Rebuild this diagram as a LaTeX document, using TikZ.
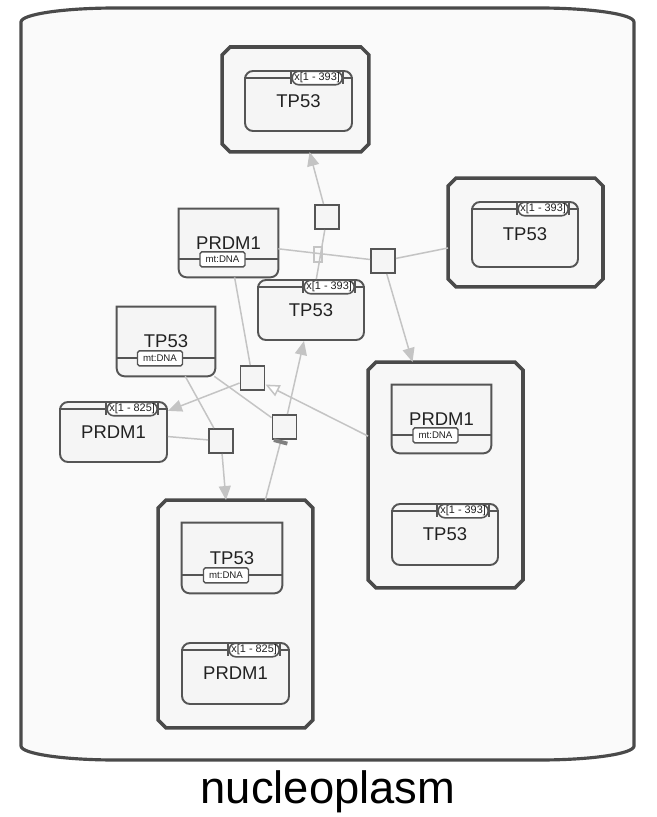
\documentclass[tikz,border=0pt]{standalone}
\usepackage{fontspec}
\setmainfont{Liberation Sans}
\usetikzlibrary{shapes.misc, arrows.meta}

\definecolor{linegray}{HTML}{C4C4C4}
\definecolor{edgedark}{HTML}{555555}
\definecolor{cxdark}{HTML}{4A4A4A}
\definecolor{epnfill}{HTML}{F5F5F5}
\definecolor{cxfill}{HTML}{F7F7F7}
\definecolor{compfill}{HTML}{FAFAFA}
\definecolor{textdark}{HTML}{222222}

\tikzstyle{complexbox} = [rectangle, draw=none, fill=none, inner sep=0pt, outer sep=0pt]
\tikzstyle{macromol} = [rectangle, rounded corners=0.16cm, draw=edgedark, line width=1.1pt, fill=epnfill, text=textdark, font=\fontsize{10.5}{12}\selectfont, inner sep=0pt]
\tikzstyle{nafeat} = [rectangle, fill=epnfill, text=textdark, font=\fontsize{10.5}{12}\selectfont, inner sep=0pt]
\tikzstyle{epnline} = [draw=edgedark, line width=1.1pt]
\tikzstyle{unitbox} = [rounded rectangle, draw=edgedark, line width=0.9pt, fill=white, text=textdark, minimum width=1.0cm, minimum height=0.27cm, inner sep=0pt, font=\fontsize{6.2}{6.2}\selectfont]
\tikzstyle{dnabox} = [rectangle, rounded corners=1pt, draw=edgedark, line width=0.8pt, fill=white, text=textdark, minimum width=0.9cm, minimum height=0.3cm, inner sep=0pt, font=\fontsize{5.5}{5.5}\selectfont]
\tikzstyle{process} = [rectangle, draw=edgedark, line width=1.1pt, fill=epnfill, minimum size=0.48cm, inner sep=0pt]
\tikzstyle{link} = [draw=linegray, line width=0.85pt]
\tikzstyle{arrow} = [link, -{Triangle[length=0.28cm, width=0.24cm, fill=linegray]}]
\tikzstyle{stim} = [link, -{Triangle[open, length=0.28cm, width=0.24cm, fill=white]}]
\tikzstyle{inhib} = [link, -{Bar[width=0.28cm, line width=2.2pt, color=gray]}]

% contorno chanfrado do complexo
\newcommand{\chanfro}[1]{%
  \draw[draw=cxdark, line width=2pt, fill=cxfill] ([xshift=0.16cm]#1.north west) -- ([xshift=-0.16cm]#1.north east) -- ([yshift=-0.16cm]#1.north east) -- ([yshift=0.16cm]#1.south east) -- ([xshift=-0.16cm]#1.south east) -- ([xshift=0.16cm]#1.south west) -- ([yshift=0.16cm]#1.south west) -- ([yshift=-0.16cm]#1.north west) -- cycle;}

% unidade de informacao sobre a linha de topo
\newcommand{\unidade}[3]{%
  \draw[epnline] ([yshift=-0.16cm]#1.north west) -- ([yshift=-0.16cm]#1.north east);
  \node (#2) [unitbox, anchor=east] at ([xshift=-0.2cm, yshift=-0.16cm]#1.north east) {#3};
  \draw[edgedark, line width=1.2pt] ([yshift=0.12cm]#2.west) -- ([yshift=-0.12cm]#2.west);
  \draw[edgedark, line width=1.2pt] ([yshift=0.12cm]#2.east) -- ([yshift=-0.12cm]#2.east);}

% contorno de acido nucleico com o marcador mt:DNA
\newcommand{\acidonuc}[2]{%
  \draw[epnline] (#1.north west) -- (#1.north east) -- ([yshift=0.16cm]#1.south east) arc[start angle=0, end angle=-90, radius=0.16cm] -- ([xshift=0.16cm]#1.south west) arc[start angle=270, end angle=180, radius=0.16cm] -- cycle;
  \draw[epnline] ([yshift=0.36cm]#1.south west) -- ([yshift=0.36cm]#1.south east);
  \node (#2) [dnabox] at ([xshift=-0.12cm, yshift=0.36cm]#1.south) {mt:DNA};}

\begin{document}
\begin{tikzpicture}[x=0.02cm, y=-0.02cm]

        \useasboundingbox (0,0) rectangle (656,817);

        % Compartimento
        \draw[draw=cxdark, line width=1.8pt, fill=compfill] (21,22) arc[start angle=180, end angle=90, x radius=1.9cm, y radius=0.28cm] -- (539,8) arc[start angle=90, end angle=0, x radius=1.9cm, y radius=0.28cm] -- (634,746) arc[start angle=0, end angle=-90, x radius=1.9cm, y radius=0.28cm] -- (116,760) arc[start angle=270, end angle=180, x radius=1.9cm, y radius=0.28cm] -- cycle;
        \node (rotulo) [font=\fontsize{25.8}{30}\selectfont] at (328,792) {nucleoplasm};

        % Complexos
        \node (cxA) [complexbox, minimum width=2.94cm, minimum height=2.1cm] at (295.5,99.5) {};
        \chanfro{cxA}
        \node (cxB) [complexbox, minimum width=3.1cm, minimum height=2.18cm] at (525.5,232.5) {};
        \chanfro{cxB}
        \node (cxC) [complexbox, minimum width=3.1cm, minimum height=4.52cm] at (445.5,475) {};
        \chanfro{cxC}
        \node (cxD) [complexbox, minimum width=3.1cm, minimum height=4.56cm] at (235.5,614) {};
        \chanfro{cxD}

        % Entidades dentro dos complexos
        \node (tpA) [macromol, minimum width=2.14cm, minimum height=1.2cm] at (298.5,101) {TP53};
        \unidade{tpA}{uA}{x[1 - 393]}
        \node (tpB) [macromol, minimum width=2.12cm, minimum height=1.3cm] at (525,234.5) {TP53};
        \unidade{tpB}{uB}{x[1 - 393]}
        \node (prC) [nafeat, minimum width=1.98cm, minimum height=1.36cm] at (441.5,419) {PRDM1};
        \acidonuc{prC}{dnaC}
        \node (tpC) [macromol, minimum width=2.12cm, minimum height=1.22cm] at (445,534.5) {TP53};
        \unidade{tpC}{uC}{x[1 - 393]}
        \node (tpD) [nafeat, minimum width=2.0cm, minimum height=1.4cm] at (232,558) {TP53};
        \acidonuc{tpD}{dnaD}
        \node (prD) [macromol, minimum width=2.14cm, minimum height=1.22cm] at (235.5,673.5) {PRDM1};
        \unidade{prD}{uD}{x[1 - 825]}

        % Entidades livres
        \node (prE) [nafeat, minimum width=1.98cm, minimum height=1.36cm] at (228.5,243) {PRDM1};
        \acidonuc{prE}{dnaE}
        \node (tpF) [macromol, minimum width=2.12cm, minimum height=1.2cm] at (311,310) {TP53};
        \unidade{tpF}{uF}{x[1 - 393]}
        \node (tpG) [nafeat, minimum width=1.96cm, minimum height=1.38cm] at (166,341.5) {TP53};
        \acidonuc{tpG}{dnaG}
        \node (prH) [macromol, minimum width=2.14cm, minimum height=1.2cm] at (113.5,432) {PRDM1};
        \unidade{prH}{uH}{x[1 - 825]}

        % Processos
        \node (p1) [process] at (327,217) {};
        \node (p2) [process] at (383,261) {};
        \node (p3) [process] at (252.5,378) {};
        \node (p4) [process] at (284.5,427) {};
        \node (p5) [process] at (221,441) {};
        \node (fantasma) [rectangle, draw=linegray, line width=0.6pt, minimum width=0.16cm, minimum height=0.3cm, inner sep=0pt] at (318,254.5) {};

        % Arcos
        \draw [link] (tpF) -- (p1);
        \draw [arrow] (p1) -- (cxA);
        \draw [link] (prE) -- (p2);
        \draw [link] (cxB) -- (p2);
        \draw [arrow] (p2) -- (cxC);
        \draw [link] (prE) -- (p3);
        \draw [arrow] (p3) -- (prH);
        \draw [stim] (cxC) -- (p3);
        \draw [link] (tpG) -- (p4);
        \draw [arrow] (p4) -- (tpF);
        \draw [inhib] (cxD) -- (p4);
        \draw [link] (tpG) -- (p5);
        \draw [link] (prH) -- (p5);
        \draw [arrow] (p5) -- (cxD);

    \end{tikzpicture}
\end{document}
